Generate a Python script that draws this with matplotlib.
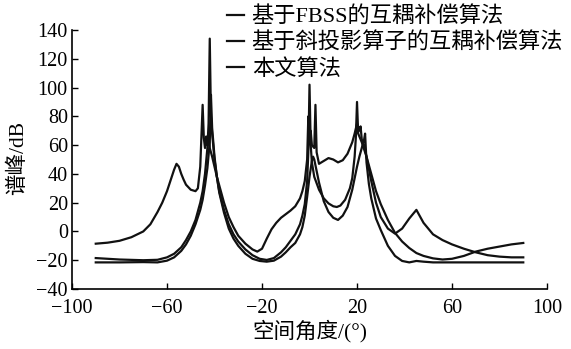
import numpy as np
import matplotlib.pyplot as plt

# (angle in degrees, spectrum in dB)
fbss = np.array([
    (-90, -8.5), (-85, -7.8), (-80, -6.5), (-75, -4), (-70, 0), (-67, 5),
    (-64, 13.5), (-62, 20), (-60, 28), (-58, 38), (-57, 43), (-56, 47),
    (-55, 45), (-54, 40), (-53, 36), (-52, 32.5), (-50, 29), (-48, 28),
    (-47, 30), (-46, 45), (-45, 88), (-44.5, 65), (-44, 58), (-43.5, 66),
    (-43, 60), (-42.5, 68), (-42, 58), (-41, 52), (-40, 45), (-39, 38),
    (-38, 32), (-36, 20), (-34, 10), (-32, 3), (-30, -3), (-27, -8.5),
    (-24, -12.5), (-22, -14), (-20, -12), (-18, -5), (-16, 1.5), (-14, 6),
    (-12, 9.5), (-10, 12), (-8, 14.5), (-6, 17.5), (-4, 23), (-3, 28),
    (-2, 35), (-1, 50), (-0.5, 80), (0, 62), (0.5, 70), (1, 60), (2, 58),
    (2.5, 88), (3, 55), (4, 47), (6, 49), (8, 51), (10, 50), (12, 48),
    (14, 49.5), (16, 54), (18, 62), (19, 68), (20, 75), (21, 70),
    (21.5, 73), (22, 64), (23, 60), (24, 52), (26, 35), (28, 20), (30, 10),
    (33, 2), (36, -1.5), (39, 2), (42, 9), (45, 15), (48, 6), (52, -2),
    (56, -6), (60, -9), (65, -12), (70, -14.5), (75, -16.5), (80, -17.5),
    (85, -18), (90, -18),
])

oblique = np.array([
    (-90, -18.5), (-80, -19.5), (-70, -20), (-64, -19.7), (-60, -18),
    (-57, -15.5), (-54, -11), (-52, -6), (-50, 0), (-48, 8), (-46, 20),
    (-45, 28), (-44, 40), (-43, 58), (-42.5, 75), (-42, 134), (-41.5, 80),
    (-41, 68), (-40, 50), (-39, 38), (-38, 28), (-36, 15), (-34, 5),
    (-32, -2), (-30, -7), (-27, -12.5), (-24, -16.5), (-21, -19),
    (-18, -19.8), (-15, -18.5), (-12, -14.5), (-10, -11), (-8, -6.5),
    (-6, -2), (-4, 5), (-3, 11), (-2, 19), (-1, 35), (-0.5, 55), (0, 102),
    (0.5, 60), (1, 48), (2, 38), (4, 29), (6, 23), (8, 19.5), (10, 17.5),
    (11.5, 17), (13, 18), (15, 22), (17, 30), (18, 37), (19, 52),
    (19.5, 65), (20, 90), (20.5, 68), (21, 66), (22, 62), (24, 52),
    (26, 40), (28, 28), (30, 19), (33, 8), (36, -1), (39, -7), (42, -11.5),
    (45, -15), (48, -17), (52, -18.7), (56, -19.5), (60, -19), (65, -17),
    (70, -14), (75, -12), (80, -10.5), (85, -9), (90, -8),
])

proposed = np.array([
    (-90, -21.5), (-80, -21.5), (-70, -21.3), (-64, -21.5), (-60, -20.3),
    (-57, -18), (-54, -13.5), (-52, -9), (-50, -3), (-48, 5), (-46, 15),
    (-45, 22), (-44, 32), (-43, 44), (-42, 62), (-41.5, 95), (-41, 72),
    (-40, 52), (-39, 38), (-38, 27), (-36, 13), (-34, 2), (-32, -5),
    (-30, -10), (-27, -15.5), (-24, -19), (-21, -20.5), (-18, -21),
    (-15, -20.3), (-12, -17.5), (-10, -14.5), (-8, -11), (-6, -8),
    (-4, -2), (-3, 3), (-2, 11), (-1, 24), (0, 38), (1, 49), (1.5, 52),
    (2, 50), (3, 42), (4, 34), (6, 21), (8, 13.5), (10, 9.5), (12, 8),
    (14, 11), (16, 17), (18, 29), (19, 37), (20, 45), (21, 52), (22, 58),
    (23, 64), (23.4, 68), (24, 48), (25, 33), (26, 23), (28, 9), (30, 1),
    (33, -10), (36, -17), (39, -20.5), (42, -21.5), (45, -20.5), (48, -21),
    (52, -21.5), (60, -21.5), (70, -21.5), (80, -21.5), (90, -21.5),
])

labels = ["基于FBSS的互耦补偿算法", "基于斜投影算子的互耦补偿算法", "本文算法"]
x_ticks = [-100, -60, -20, 20, 60, 100]
y_ticks = list(range(-40, 141, 20))

plt.rcParams["font.family"] = ["Liberation Serif", "Noto Sans CJK SC"]
plt.rcParams["axes.unicode_minus"] = True

fig = plt.figure(figsize=(5.71, 3.49), dpi=100)
ax = fig.add_axes([0.1261, 0.1719, 0.8319, 0.7421])

for curve, label in zip([fbss, oblique, proposed], labels):
    ax.plot(curve[:, 0], curve[:, 1], color="#111111", linewidth=1.6, label=label)

ax.set_xlim(-100, 100)
ax.set_ylim(-40, 140)
ax.set_xticks(x_ticks)
ax.set_yticks(y_ticks)
ax.tick_params(direction="in", length=4, width=1, labelsize=14.5, colors="black")
ax.tick_params(axis="x", pad=7.5)
ax.tick_params(axis="y", pad=3)
for side in ["top", "right"]:
    ax.spines[side].set_visible(False)
for side in ["left", "bottom"]:
    ax.spines[side].set_linewidth(1.2)

fig.text(310 / 571, 1 - 331 / 349, "空间角度/(°)", fontsize=15.5,
         ha="center", va="center")
fig.text(18 / 571, 1 - 158 / 349, "谱峰/dB", fontsize=15.5, rotation=90,
         ha="center", va="center")

fig.legend(loc="upper left", bbox_to_anchor=(227 / 571, 1 - 7 / 349),
           frameon=False, fontsize=16, handlelength=0.75, handletextpad=0.36,
           labelspacing=0.22, borderpad=0, borderaxespad=0)

fig.savefig("out.png", dpi=100)
